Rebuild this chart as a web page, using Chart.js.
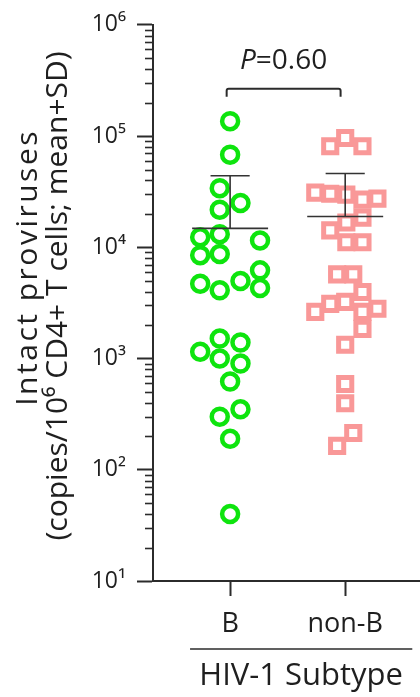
<!DOCTYPE html>
<html lang="en">
<head>
    <meta charset="UTF-8">
    <title>Intact proviruses by HIV-1 subtype</title>
    <style>
        html, body { margin: 0; padding: 0; background: #fff; overflow: hidden; }
        #wrap { width: 420px; height: 697px; }
    </style>
</head>
<body>
    <div id="wrap"><canvas id="myChart"></canvas></div>

    <script src="https://cdn.jsdelivr.net/npm/chart.js"></script>
    <script>
        // values (copies / 10^6 CD4+ T cells)
        const categories = ['B', 'non-B'];
        const subtypeB = [136000, 68000, 34000, 25000, 21800, 13100, 12300, 11500, 8500, 8700,
                          6200, 4970, 4700, 4300, 4100, 1510, 1390, 1150, 1000, 900,
                          620, 350, 300, 190, 40];
        // horizontal spread of each dot, as a fraction of the gap between groups
        const subtypeBJitter = [0, 0, -0.09, 0.09, -0.09, -0.09, -0.26, 0.26, -0.26, -0.09,
                                0.26, 0.09, -0.26, 0.26, -0.09, -0.09, 0.09, -0.26, -0.09, 0.09,
                                0, 0.09, -0.09, 0, 0];
        const subtypeNonB = [81000, 96000, 81000, 31000, 30300, 29700, 26800, 27400, 18500, 16700,
                             14200, 11100, 11100, 5700, 5700, 3960, 3100, 3230, 2630, 2630,
                             2800, 1850, 1330, 590, 396, 214, 164];
        const subtypeNonBJitter = [-0.13, 0, 0.15, -0.26, -0.13, 0.01, 0.15, 0.28, 0.15, 0.01,
                                   -0.13, 0.01, 0.15, -0.07, 0.07, 0.15, -0.13, 0, -0.26, 0.15,
                                   0.28, 0.15, 0, 0, 0, 0.07, -0.07];
        const groupMean = [14800, 18900];
        const groupMeanPlusSD = [44000, 46000];
        const yTicks = [10, 100, 1000, 10000, 100000, 1000000];
        const yTickLabels = ['10¹', '10²', '10³', '10⁴', '10⁵', '10⁶'];
        const yTitle = ['Intact proviruses', '(copies/10⁶ CD4+ T cells; mean+SD)'];
        const pLabel = 'P=0.60';
        const xTitle = 'HIV-1 Subtype';

        const FONT = "'Open Sans', 'Noto Sans', 'DejaVu Sans', sans-serif";
        const INK = '#2b2b2b';
        const TEXT = '#1f1f1f';

        function points(values, jitter, pos) {
            return values.map((v, i) => ({ x: pos + jitter[i], y: v }));
        }

        // mean bar + SD whisker with cap, separated by gaps
        function meanSD(pos, mean, top) {
            return [
                { x: pos - 0.33, y: mean }, { x: pos + 0.33, y: mean }, { x: pos, y: null },
                { x: pos, y: mean }, { x: pos, y: top }, { x: pos, y: null },
                { x: pos - 0.17, y: top }, { x: pos + 0.17, y: top }
            ];
        }

        const extras = {
            id: 'extras',
            afterDraw(chart) {
                const { ctx, chartArea, scales: { x, y } } = chart;
                ctx.save();
                ctx.strokeStyle = INK;
                ctx.lineCap = 'butt';

                // minor log ticks
                ctx.lineWidth = 1.6;
                for (let d = 1; d < 6; d++) {
                    for (let k = 2; k <= 9; k++) {
                        const py = Math.round(y.getPixelForValue(k * Math.pow(10, d))) + 0.5;
                        ctx.beginPath();
                        ctx.moveTo(chartArea.left - 8, py);
                        ctx.lineTo(chartArea.left, py);
                        ctx.stroke();
                    }
                }

                // significance bracket
                const bx1 = x.getPixelForValue(0.97);
                const bx2 = x.getPixelForValue(1.96);
                const by = chartArea.top + 64;
                ctx.lineWidth = 2;
                ctx.lineJoin = 'round';
                ctx.beginPath();
                ctx.moveTo(bx1, by + 8);
                ctx.lineTo(bx1, by + 2);
                ctx.quadraticCurveTo(bx1, by, bx1 + 2, by);
                ctx.lineTo(bx2 - 2, by);
                ctx.quadraticCurveTo(bx2, by, bx2, by + 2);
                ctx.lineTo(bx2, by + 8);
                ctx.stroke();

                ctx.fillStyle = TEXT;
                ctx.textBaseline = 'middle';
                const pText = pLabel.slice(1);
                ctx.font = 'italic 28px ' + FONT;
                const wP = ctx.measureText('P').width;
                ctx.font = '28px ' + FONT;
                const wRest = ctx.measureText(pText).width;
                const startX = (bx1 + bx2) / 2 - (wP + wRest) / 2;
                ctx.textAlign = 'left';
                ctx.font = 'italic 28px ' + FONT;
                ctx.fillText('P', startX, chartArea.top + 36);
                ctx.font = '28px ' + FONT;
                ctx.fillText(pText, startX + wP, chartArea.top + 36);

                // x axis group title with rule above
                const lx1 = x.getPixelForValue(0.652);
                const lx2 = x.getPixelForValue(2.583);
                const ly = chartArea.bottom + 68;
                ctx.lineWidth = 1.6;
                ctx.beginPath();
                ctx.moveTo(lx1, ly);
                ctx.lineTo(lx2, ly);
                ctx.stroke();
                ctx.textAlign = 'center';
                ctx.font = '31px ' + FONT;
                ctx.fillText(xTitle, x.getPixelForValue(1.617), chartArea.bottom + 95);

                // y title, two rotated lines
                ctx.font = '30px ' + FONT;
                ctx.save();
                ctx.letterSpacing = '2.5px';
                ctx.translate(28, y.getPixelForValue(6600));
                ctx.rotate(-Math.PI / 2);
                ctx.fillText(yTitle[0], 0, 0);
                ctx.restore();
                ctx.save();
                ctx.translate(58, y.getPixelForValue(3650));
                ctx.rotate(-Math.PI / 2);
                ctx.fillText(yTitle[1], 0, 0);
                ctx.restore();
                ctx.restore();
            }
        };

        const ctx = document.getElementById('myChart').getContext('2d');
        const myChart = new Chart(ctx, {
            type: 'scatter',
            data: {
                datasets: [
                    {
                        type: 'line',
                        data: meanSD(1, groupMean[0], groupMeanPlusSD[0]),
                        borderColor: '#333',
                        borderWidth: 1.6,
                        pointRadius: 0,
                        spanGaps: false,
                        order: 0
                    },
                    {
                        type: 'line',
                        data: meanSD(2, groupMean[1], groupMeanPlusSD[1]),
                        borderColor: '#333',
                        borderWidth: 1.6,
                        pointRadius: 0,
                        spanGaps: false,
                        order: 0
                    },
                    {
                        label: categories[0],
                        data: points(subtypeB, subtypeBJitter, 1),
                        pointStyle: 'circle',
                        pointRadius: 8,
                        borderWidth: 4.5,
                        borderColor: 'rgb(14, 228, 14)',
                        backgroundColor: 'rgba(0,0,0,0)',
                        order: 1
                    },
                    {
                        label: categories[1],
                        data: points(subtypeNonB, subtypeNonBJitter, 2),
                        pointStyle: 'rect',
                        pointRadius: 9.3,
                        borderWidth: 5,
                        borderColor: 'rgb(249, 152, 152)',
                        backgroundColor: 'rgba(0,0,0,0)',
                        order: 1
                    }
                ]
            },
            options: {
                responsive: true,
                maintainAspectRatio: false,
                animation: false,
                clip: false,
                layout: { autoPadding: false, padding: { top: 21, left: 0, right: 0, bottom: 0 } },
                plugins: {
                    legend: { display: false },
                    tooltip: { enabled: false }
                },
                scales: {
                    x: {
                        type: 'linear',
                        min: 0.33,
                        max: 2.65,
                        afterBuildTicks: (scale) => {
                            scale.ticks = [{ value: 1 }, { value: 2 }];
                        },
                        afterFit: (scale) => { scale.height = 116; },
                        ticks: {
                            autoSkip: false,
                            maxRotation: 0,
                            padding: 12,
                            color: TEXT,
                            font: { family: FONT, size: 27 },
                            callback: (value) => categories[value - 1] || ''
                        },
                        grid: {
                            drawOnChartArea: false,
                            drawTicks: true,
                            tickLength: 15,
                            tickWidth: 2,
                            tickColor: INK
                        },
                        border: { display: true, color: INK, width: 2 }
                    },
                    y: {
                        type: 'logarithmic',
                        min: 10,
                        max: 1000000,
                        afterBuildTicks: (scale) => {
                            scale.ticks = yTicks.map(v => ({ value: v, major: true }));
                        },
                        afterFit: (scale) => { scale.width = 153; },
                        ticks: {
                            autoSkip: false,
                            padding: 11,
                            color: TEXT,
                            font: { family: FONT, size: 23 },
                            callback: (value) => {
                                const i = yTicks.indexOf(value);
                                return i >= 0 ? yTickLabels[i] : '';
                            }
                        },
                        grid: {
                            drawOnChartArea: false,
                            drawTicks: true,
                            tickLength: 16,
                            tickWidth: 2,
                            tickColor: INK
                        },
                        border: { display: true, color: INK, width: 2 }
                    }
                }
            },
            plugins: [extras]
        });
    </script>
</body>
</html>
